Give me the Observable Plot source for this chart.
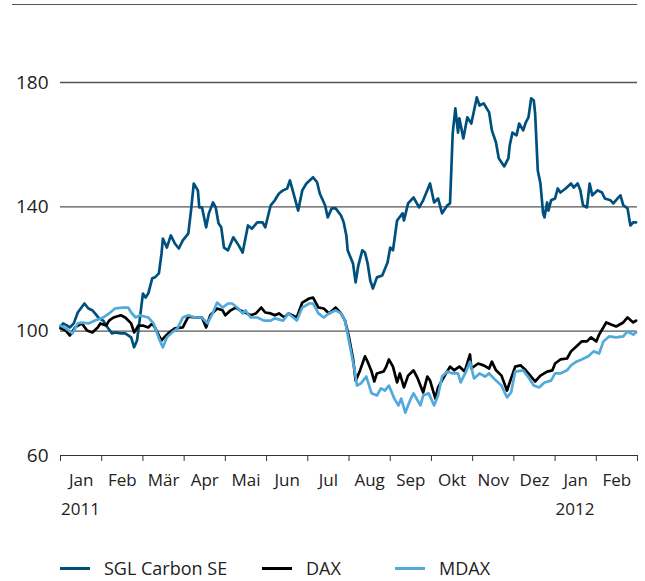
<!DOCTYPE html>
<html><head><meta charset="utf-8">
<script src="https://cdn.jsdelivr.net/npm/d3@7"></script>
<script src="https://cdn.jsdelivr.net/npm/@observablehq/plot@0.6"></script>
<style>
body{margin:0;background:#fff;font-family:"Open Sans",sans-serif;color:#222}
#wrap{position:relative;width:645px;height:581px;overflow:hidden}
#chart{position:absolute;left:0;top:0}
#topline{position:absolute;left:12px;top:4px;width:625px;border-top:1.5px solid #555;z-index:2}
#legend{position:absolute;top:556px;left:0;width:645px;height:24px;font-size:18px}
.item{position:absolute;top:0;display:flex;align-items:center;height:24px;white-space:nowrap}
.sw{display:inline-block;width:30px;height:3px;margin-right:14px}
</style></head><body>
<div id="wrap"><div id="chart"></div><div id="topline"></div><div id="legend"></div></div>
<script>
const seriesNames = ["SGL Carbon SE", "DAX", "MDAX"];
const seriesColors = ["#00507d", "#000000", "#50aadc"];
const monthLabels = ["Jan","Feb","Mär","Apr","Mai","Jun","Jul","Aug","Sep","Okt","Nov","Dez","Jan","Feb"];
const yearLabels = [["2011-01-16","2011"],["2012-01-16","2012"]];
const yTicks = [60,100,140,180];
const gridValues = [100,140,180];

const sgl = [["2011-01-01",101.5],["2011-01-03",102.5],["2011-01-06",101.8],["2011-01-08",101.2],["2011-01-11",102.5],["2011-01-14",106.0],["2011-01-19",108.9],["2011-01-22",107.3],["2011-01-25",106.7],["2011-01-27",105.7],["2011-01-30",104.1],
["2011-02-02",103.4],["2011-02-05",101.2],["2011-02-08",99.3],["2011-02-10",99.6],["2011-02-14",99.3],["2011-02-17",99.3],["2011-02-21",98.0],["2011-02-23",94.8],["2011-02-25",97.0],["2011-02-27",104.4],
["2011-03-01",112.1],["2011-03-03",110.8],["2011-03-05",112.1],["2011-03-08",117.0],["2011-03-10",117.3],["2011-03-13",118.6],["2011-03-15",125.0],["2011-03-16",129.8],["2011-03-19",126.9],["2011-03-22",130.8],["2011-03-25",128.2],["2011-03-28",126.6],["2011-03-31",129.2],
["2011-04-04",131.4],["2011-04-06",138.8],["2011-04-08",147.5],["2011-04-11",145.3],["2011-04-12",139.8],["2011-04-14",139.8],["2011-04-17",133.4],["2011-04-19",137.9],["2011-04-22",141.4],["2011-04-24",139.8],["2011-04-26",134.7],["2011-04-28",133.4],["2011-04-30",126.9],
["2011-05-03",126.0],["2011-05-07",130.2],["2011-05-11",127.6],["2011-05-14",125.3],["2011-05-18",134.0],["2011-05-21",133.0],["2011-05-25",135.0],["2011-05-29",135.0],["2011-05-31",133.4],
["2011-06-04",140.5],["2011-06-07",142.1],["2011-06-10",144.3],["2011-06-13",145.3],["2011-06-16",145.9],["2011-06-18",148.5],["2011-06-21",143.7],["2011-06-24",138.8],["2011-06-27",145.3],["2011-06-30",147.5],
["2011-07-05",149.5],["2011-07-08",147.9],["2011-07-10",144.3],["2011-07-14",140.5],["2011-07-16",136.6],["2011-07-19",139.5],["2011-07-22",139.5],["2011-07-26",137.2],["2011-07-28",135.0],["2011-07-30",130.8],["2011-07-31",126.0],
["2011-08-04",121.8],["2011-08-06",115.7],["2011-08-08",121.1],["2011-08-11",126.0],["2011-08-13",125.3],["2011-08-15",121.8],["2011-08-17",116.3],["2011-08-19",113.7],["2011-08-22",117.3],["2011-08-26",117.9],["2011-08-30",122.1],
["2011-09-01",126.9],["2011-09-03",126.0],["2011-09-06",135.6],["2011-09-10",137.9],["2011-09-11",135.6],["2011-09-14",141.1],["2011-09-18",143.0],["2011-09-22",139.8],["2011-09-25",142.1],["2011-09-30",147.5],
["2011-10-03",141.4],["2011-10-06",142.7],["2011-10-09",137.9],["2011-10-13",140.5],["2011-10-15",141.1],["2011-10-17",163.6],["2011-10-19",171.7],["2011-10-21",163.9],["2011-10-22",168.5],["2011-10-25",162.0],["2011-10-28",168.8],["2011-10-31",166.8],
["2011-11-04",175.2],["2011-11-06",172.6],["2011-11-09",173.3],["2011-11-13",170.4],["2011-11-15",164.6],["2011-11-18",160.7],["2011-11-20",155.6],["2011-11-24",153.0],["2011-11-27",155.6],["2011-11-28",159.8],["2011-11-30",163.9],
["2011-12-03",163.0],["2011-12-05",166.8],["2011-12-08",164.6],["2011-12-10",167.2],["2011-12-12",168.8],["2011-12-14",174.9],["2011-12-16",174.2],["2011-12-17",170.1],["2011-12-19",151.7],["2011-12-21",147.5],["2011-12-23",137.9],["2011-12-24",136.6],["2011-12-26",141.4],["2011-12-27",138.8],["2011-12-29",142.1],
["2012-01-01",142.7],["2012-01-03",145.9],["2012-01-05",144.6],["2012-01-09",145.9],["2012-01-13",147.5],["2012-01-15",146.2],["2012-01-18",147.5],["2012-01-20",145.3],["2012-01-22",140.5],["2012-01-25",139.8],["2012-01-27",147.5],["2012-01-29",143.7],
["2012-02-02",145.3],["2012-02-05",144.6],["2012-02-07",142.7],["2012-02-11",142.1],["2012-02-13",141.1],["2012-02-16",142.7],["2012-02-18",143.7],["2012-02-20",140.5],["2012-02-23",139.5],["2012-02-25",134.0],["2012-02-27",135.0],["2012-02-29",135.0]];

const dax = [["2011-01-01",100.9],["2011-01-05",100.2],["2011-01-08",98.6],["2011-01-12",101.2],["2011-01-17",102.5],["2011-01-21",100.2],["2011-01-25",99.6],["2011-01-29",101.2],["2011-01-31",102.5],
["2011-02-04",101.8],["2011-02-06",103.4],["2011-02-09",104.4],["2011-02-14",105.1],["2011-02-17",104.4],["2011-02-21",102.5],["2011-02-23",99.6],["2011-02-26",101.8],
["2011-03-01",101.8],["2011-03-05",101.2],["2011-03-08",102.5],["2011-03-10",101.2],["2011-03-13",98.6],["2011-03-15",97.0],["2011-03-17",98.0],["2011-03-20",99.3],["2011-03-25",100.9],["2011-03-31",101.2],
["2011-04-04",104.7],["2011-04-09",104.4],["2011-04-14",104.4],["2011-04-17",101.2],["2011-04-20",105.1],["2011-04-25",107.3],["2011-04-29",106.7],
["2011-05-01",105.1],["2011-05-05",106.7],["2011-05-09",107.6],["2011-05-12",106.7],["2011-05-16",106.0],["2011-05-20",105.1],["2011-05-24",105.7],["2011-05-28",107.6],["2011-05-31",106.0],
["2011-06-04",105.7],["2011-06-07",105.1],["2011-06-10",105.7],["2011-06-14",104.4],["2011-06-17",105.7],["2011-06-23",104.4],["2011-06-27",109.2],
["2011-07-02",110.5],["2011-07-05",110.8],["2011-07-09",107.6],["2011-07-13",107.3],["2011-07-17",105.7],["2011-07-22",107.6],["2011-07-26",105.7],["2011-07-29",103.4],
["2011-08-01",98.0],["2011-08-04",91.2],["2011-08-06",84.1],["2011-08-09",87.0],["2011-08-13",91.9],["2011-08-15",90.2],["2011-08-18",87.0],["2011-08-20",83.8],["2011-08-22",86.4],["2011-08-27",87.0],["2011-08-29",88.6],["2011-08-31",90.9],
["2011-09-03",88.6],["2011-09-06",83.5],["2011-09-08",86.4],["2011-09-11",81.9],["2011-09-14",85.7],["2011-09-18",87.4],["2011-09-21",84.8],["2011-09-25",80.3],["2011-09-28",85.4],["2011-09-30",84.1],
["2011-10-04",78.3],["2011-10-06",81.9],["2011-10-11",85.7],["2011-10-15",88.6],["2011-10-18",87.4],["2011-10-22",88.6],["2011-10-26",87.0],["2011-10-30",92.5],["2011-10-31",88.0],
["2011-11-05",89.6],["2011-11-09",89.0],["2011-11-13",88.0],["2011-11-15",90.2],["2011-11-18",87.4],["2011-11-22",85.7],["2011-11-26",80.9],["2011-11-29",84.8],
["2011-12-02",88.6],["2011-12-06",89.0],["2011-12-10",87.4],["2011-12-14",85.4],["2011-12-17",83.8],["2011-12-21",85.7],["2011-12-26",87.0],["2011-12-30",87.4],
["2012-01-01",89.6],["2012-01-05",90.9],["2012-01-10",91.2],["2012-01-13",93.5],["2012-01-17",95.1],["2012-01-21",96.7],["2012-01-25",96.7],["2012-01-28",98.0],
["2012-02-01",96.7],["2012-02-03",98.9],["2012-02-08",102.8],["2012-02-11",102.2],["2012-02-15",101.5],["2012-02-20",102.8],["2012-02-23",104.4],["2012-02-27",102.8],["2012-02-29",103.4]];

const mdax = [["2011-01-01",101.8],["2011-01-05",100.9],["2011-01-10",99.3],["2011-01-14",102.5],["2011-01-17",102.8],["2011-01-22",102.5],["2011-01-27",103.4],
["2011-02-02",104.4],["2011-02-06",105.7],["2011-02-10",107.3],["2011-02-15",107.6],["2011-02-19",107.6],["2011-02-21",106.0],["2011-02-24",104.4],["2011-02-27",105.1],
["2011-03-05",104.4],["2011-03-09",102.5],["2011-03-13",97.7],["2011-03-16",94.8],["2011-03-19",98.0],["2011-03-23",99.6],["2011-03-27",100.9],["2011-03-31",104.4],
["2011-04-04",105.1],["2011-04-09",104.4],["2011-04-14",104.4],["2011-04-18",102.5],["2011-04-22",106.0],["2011-04-25",109.2],["2011-04-29",107.6],
["2011-05-03",108.9],["2011-05-06",108.9],["2011-05-10",107.6],["2011-05-14",105.7],["2011-05-16",106.7],["2011-05-20",104.4],["2011-05-25",104.4],["2011-05-30",103.4],
["2011-06-04",103.4],["2011-06-07",104.1],["2011-06-13",103.4],["2011-06-17",105.7],["2011-06-23",103.4],["2011-06-27",107.6],
["2011-07-02",108.9],["2011-07-05",108.9],["2011-07-09",105.7],["2011-07-13",104.4],["2011-07-17",105.7],["2011-07-22",106.7],["2011-07-26",105.7],["2011-07-29",103.4],
["2011-08-01",96.7],["2011-08-05",88.0],["2011-08-07",82.5],["2011-08-10",83.2],["2011-08-14",85.4],["2011-08-18",80.0],["2011-08-22",79.3],["2011-08-25",81.6],["2011-08-28",80.9],["2011-08-31",82.5],
["2011-09-04",78.3],["2011-09-07",76.1],["2011-09-09",78.3],["2011-09-12",73.8],["2011-09-16",78.3],["2011-09-18",80.0],["2011-09-23",76.1],["2011-09-25",79.3],["2011-09-29",80.0],
["2011-10-03",76.1],["2011-10-06",79.3],["2011-10-09",85.4],["2011-10-13",87.0],["2011-10-17",86.4],["2011-10-21",86.4],["2011-10-23",83.5],["2011-10-27",87.0],["2011-10-30",90.2],
["2011-11-02",84.8],["2011-11-06",86.4],["2011-11-10",85.4],["2011-11-13",86.4],["2011-11-18",84.1],["2011-11-22",82.5],["2011-11-26",78.7],["2011-11-29",80.3],
["2011-12-02",87.0],["2011-12-08",87.4],["2011-12-11",85.7],["2011-12-16",82.5],["2011-12-20",81.9],["2011-12-24",83.5],["2011-12-29",84.1],
["2012-01-01",86.4],["2012-01-05",86.4],["2012-01-10",87.4],["2012-01-13",89.0],["2012-01-17",90.2],["2012-01-21",90.9],["2012-01-26",91.9],["2012-01-30",93.5],
["2012-02-03",92.8],["2012-02-06",96.7],["2012-02-10",98.3],["2012-02-15",98.0],["2012-02-20",98.3],["2012-02-23",99.9],["2012-02-27",98.9],["2012-02-29",99.6]];

// Each calendar month gets an equal slot on the x axis (as in the reference)
function monthPos(s) {
  const [y, m, d] = s.split("-").map(Number);
  const dim = new Date(y, m, 0).getDate();
  return (y - 2011) * 12 + (m - 1) + (d - 1) / dim;
}

const seriesData = [sgl, dax, mdax];
const rows = seriesData.flatMap((arr, i) =>
  arr.map(([date, value]) => ({series: seriesNames[i], pos: monthPos(date), value})));

const monthTicks = d3.range(monthLabels.length + 1);
const monthCenters = monthLabels.map((_, i) => i + 0.5);

const chart = Plot.plot({
  width: 645,
  height: 530,
  marginLeft: 60,
  marginRight: 8,
  marginTop: 82,
  marginBottom: 75,
  style: {fontFamily: "Open Sans, sans-serif", fontSize: "17px", color: "#222", background: "#fff"},
  x: {domain: [0, monthLabels.length], axis: null},
  y: {domain: [60, 180], axis: null},
  color: {domain: seriesNames, range: seriesColors},
  marks: [
    Plot.ruleY(gridValues, {stroke: "#555", strokeWidth: 1.4}),
    Plot.ruleY([60], {stroke: "#333", strokeWidth: 1.2}),
    Plot.axisX(monthTicks, {tickSize: 6, tickFormat: () => "", stroke: "#333", label: null}),
    Plot.axisX(monthCenters, {tickSize: 0, tickPadding: 18, tickFormat: d => monthLabels[Math.floor(d)], label: null}),
    Plot.axisX(yearLabels.map(([d]) => monthPos(d)), {tickSize: 0, tickPadding: 47,
      tickFormat: (d, i) => yearLabels[i][1], label: null}),
    Plot.axisY(yTicks, {tickSize: 0, tickPadding: 12, fontSize: 19, label: null}),
    Plot.line(rows, {x: "pos", y: "value", z: "series", stroke: "series", strokeWidth: 2.7, strokeLinejoin: "round"})
  ]
});
document.getElementById("chart").appendChild(chart);

const legendLefts = [60, 262, 395];
const legend = document.getElementById("legend");
seriesNames.forEach((name, i) => {
  const item = document.createElement("div");
  item.className = "item";
  item.style.left = legendLefts[i] + "px";
  const sw = document.createElement("span");
  sw.className = "sw";
  sw.style.background = seriesColors[i];
  const tx = document.createElement("span");
  tx.textContent = name;
  item.appendChild(sw);
  item.appendChild(tx);
  legend.appendChild(item);
});
</script>
</body></html>
